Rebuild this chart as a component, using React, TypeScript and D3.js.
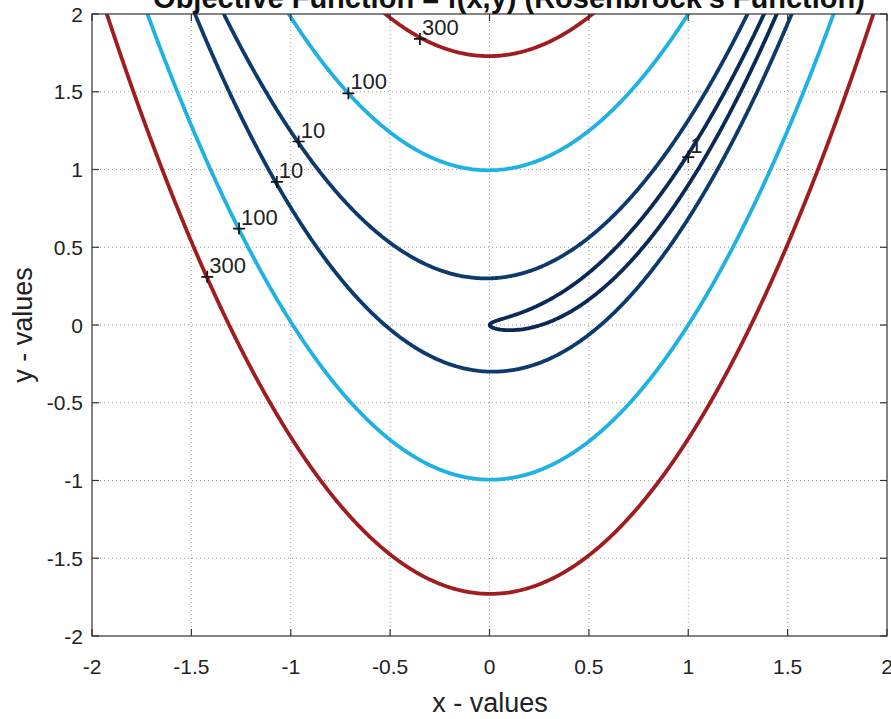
import React, { useEffect, useRef } from 'react';
import * as d3 from 'd3';

// contour levels and their line colours
const levels = [1, 10, 100, 300];
const levelColors = ['#0a2858', '#0c3a6c', '#1db2e2', '#a01c20'];

const xTicks = [-2, -1.5, -1, -0.5, 0, 0.5, 1, 1.5, 2];
const yTicks = [-2, -1.5, -1, -0.5, 0, 0.5, 1, 1.5, 2];

// "+" level labels
const labelLevels = [300, 100, 10, 10, 100, 300, 1];
const labelX = [-0.35, -0.71, -0.96, -1.07, -1.26, -1.42, 1.0];
const labelY = [1.84, 1.49, 1.18, 0.92, 0.62, 0.31, 1.08];

const title = "Objective Function = f(x,y)  (Rosenbrock's Function)";
const xTitle = 'x - values';
const yTitle = 'y - values';

const rosenbrock = (x: number, y: number) => (1 - x) ** 2 + 100 * (y - x * x) ** 2;

const FONT = '"Liberation Sans", Arial, Helvetica, sans-serif';

const App = () => {
  const svgRef = useRef<SVGSVGElement>(null);

  useEffect(() => {
    const svg = d3.select(svgRef.current);
    svg.selectAll('*').remove();

    const width = 891,
      height = 719;
    const left = 92,
      right = 887,
      top = 14,
      bottom = 636;

    const x = d3.scaleLinear().domain([-2, 2]).range([left, right]);
    const y = d3.scaleLinear().domain([-2, 2]).range([bottom, top]);

    svg.attr('width', width).attr('height', height);

    svg.append('rect').attr('width', width).attr('height', height).attr('fill', '#fff');

    // grid
    const grid = svg.append('g').attr('stroke', '#9a9a9a').attr('stroke-width', 1).attr('stroke-dasharray', '1,3');
    grid
      .selectAll('.gx')
      .data(xTicks.slice(1, -1))
      .enter()
      .append('line')
      .attr('x1', (d) => x(d))
      .attr('x2', (d) => x(d))
      .attr('y1', top)
      .attr('y2', bottom);
    grid
      .selectAll('.gy')
      .data(yTicks.slice(1, -1))
      .enter()
      .append('line')
      .attr('x1', left)
      .attr('x2', right)
      .attr('y1', (d) => y(d))
      .attr('y2', (d) => y(d));

    // contour grid, a bit bigger than the plot so the box edges are clipped off
    const lo = -2.1,
      step = 0.01,
      n = 420;
    const values = new Array(n * n);
    for (let j = 0; j < n; j++) {
      const yy = -lo - (j + 0.5) * step;
      for (let i = 0; i < n; i++) {
        const xx = lo + (i + 0.5) * step;
        values[j * n + i] = rosenbrock(xx, yy);
      }
    }
    const contours = d3.contours().size([n, n]).thresholds(levels)(values);

    const proj = d3.geoTransform({
      point: function (px: number, py: number) {
        this.stream.point(x(lo + px * step), y(-lo - py * step));
      },
    });
    const path = d3.geoPath(proj);

    svg
      .append('clipPath')
      .attr('id', 'plot-clip')
      .append('rect')
      .attr('x', left)
      .attr('y', top)
      .attr('width', right - left)
      .attr('height', bottom - top);

    svg
      .append('g')
      .attr('clip-path', 'url(#plot-clip)')
      .selectAll('path')
      .data(contours)
      .enter()
      .append('path')
      .attr('d', (d) => path(d as any))
      .attr('fill', 'none')
      .attr('stroke', (d, i) => levelColors[i])
      .attr('stroke-width', 3.8)
      .attr('stroke-linejoin', 'round');

    // box and inner ticks
    svg
      .append('rect')
      .attr('x', left)
      .attr('y', top)
      .attr('width', right - left)
      .attr('height', bottom - top)
      .attr('fill', 'none')
      .attr('stroke', '#333')
      .attr('stroke-width', 1.2);

    const tk = 7;
    const ticks = svg.append('g').attr('stroke', '#333').attr('stroke-width', 1.2);
    xTicks.forEach((t) => {
      ticks.append('line').attr('x1', x(t)).attr('x2', x(t)).attr('y1', bottom).attr('y2', bottom - tk);
      ticks.append('line').attr('x1', x(t)).attr('x2', x(t)).attr('y1', top).attr('y2', top + tk);
    });
    yTicks.forEach((t) => {
      ticks.append('line').attr('x1', left).attr('x2', left + tk).attr('y1', y(t)).attr('y2', y(t));
      ticks.append('line').attr('x1', right).attr('x2', right - tk).attr('y1', y(t)).attr('y2', y(t));
    });

    // tick labels
    svg
      .append('g')
      .selectAll('text')
      .data(xTicks)
      .enter()
      .append('text')
      .attr('x', (d) => x(d))
      .attr('y', bottom + 38)
      .attr('text-anchor', 'middle')
      .attr('font-family', FONT)
      .attr('font-size', 21)
      .attr('fill', '#222')
      .text((d) => String(d));

    svg
      .append('g')
      .selectAll('text')
      .data(yTicks)
      .enter()
      .append('text')
      .attr('x', left - 9)
      .attr('y', (d) => y(d))
      .attr('dy', '0.36em')
      .attr('text-anchor', 'end')
      .attr('font-family', FONT)
      .attr('font-size', 21)
      .attr('fill', '#222')
      .text((d) => String(d));

    // contour labels
    const lab = svg.append('g');
    labelLevels.forEach((lv, i) => {
      const px = x(labelX[i]),
        py = y(labelY[i]);
      lab
        .append('path')
        .attr('d', `M${px - 6},${py}H${px + 6}M${px},${py - 6}V${py + 6}`)
        .attr('stroke', '#111')
        .attr('stroke-width', 1.7);
      lab
        .append('text')
        .attr('x', px + 2)
        .attr('y', py - 4)
        .attr('font-family', FONT)
        .attr('font-size', 22)
        .attr('fill', '#222')
        .text(String(lv));
    });

    // titles
    svg
      .append('text')
      .attr('x', 509)
      .attr('y', 8)
      .attr('text-anchor', 'middle')
      .attr('font-family', FONT)
      .attr('font-size', 29)
      .attr('font-weight', 'bold')
      .attr('fill', '#111')
      .text(title);

    svg
      .append('text')
      .attr('x', 490)
      .attr('y', 712)
      .attr('text-anchor', 'middle')
      .attr('font-family', FONT)
      .attr('font-size', 27)
      .attr('fill', '#222')
      .text(xTitle);

    svg
      .append('text')
      .attr('transform', `translate(32,${325}) rotate(-90)`)
      .attr('text-anchor', 'middle')
      .attr('font-family', FONT)
      .attr('font-size', 27)
      .attr('fill', '#222')
      .text(yTitle);
  }, []);

  return <svg ref={svgRef} style={{ position: 'absolute', left: 0, top: 0, display: 'block' }} />;
};

export default App;
